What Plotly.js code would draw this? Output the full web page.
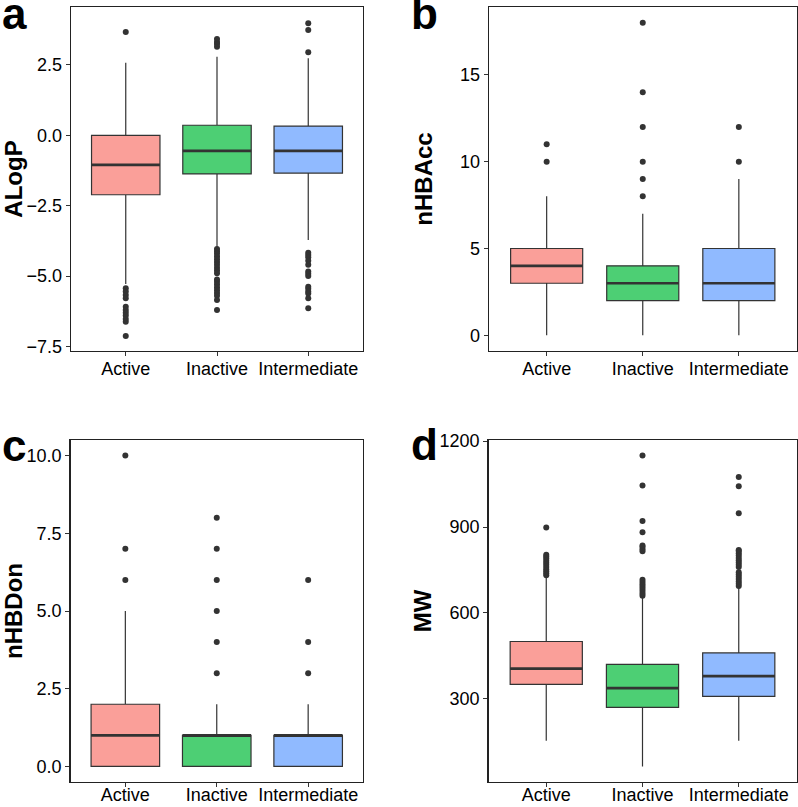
<!DOCTYPE html>
<html>
<head>
<meta charset="utf-8">
<script src="https://cdn.plot.ly/plotly-3.0.1.min.js"></script>
<style>html,body{margin:0;padding:0;background:#fff}#chart{width:798px;height:807px}</style>
</head>
<body>
<div id="chart"></div>
<script>
// ---------------- data ----------------
const categories = ['Active', 'Inactive', 'Intermediate'];

// ALogP
const alogpQ1 = [-2.11, -1.37, -1.34];
const alogpMedian = [-1.05, -0.55, -0.55];
const alogpQ3 = [0.0, 0.36, 0.33];
const alogpLow = [-5.28, -3.96, -3.72];
const alogpHigh = [2.58, 2.79, 2.74];
const alogpOutActive = [3.67, -5.43, -5.55, -5.67, -5.79, -6.09, -6.2, -6.3, -6.4, -6.52, -6.62, -7.13];
const alogpOutInactive = [3.15, 3.25, 3.32, 3.42, -4.04, -4.12, -4.2, -4.3, -4.4, -4.5, -4.6, -4.7, -4.8, -4.9,
  -5.12, -5.2, -5.3, -5.4, -5.5, -5.6, -5.7, -5.85, -6.2];
const alogpOutIntermediate = [2.95, 3.74, 3.98, -4.17, -4.25, -4.33, -4.45, -4.6, -4.84, -4.92, -5.0,
  -5.38, -5.45, -5.55, -5.62, -5.79, -6.14];
const alogpTicks = [-7.5, -5.0, -2.5, 0.0, 2.5];

// nHBAcc
const hbaQ1 = [3, 2, 2];
const hbaMedian = [4, 3, 3];
const hbaQ3 = [5, 4, 5];
const hbaLow = [0, 0, 0];
const hbaHigh = [8, 7, 9];
const hbaOutActive = [10, 11];
const hbaOutInactive = [8, 9, 10, 12, 14, 18];
const hbaOutIntermediate = [10, 12];
const hbaTicks = [0, 5, 10, 15];

// nHBDon
const hbdQ1 = [0, 0, 0];
const hbdMedian = [1, 1, 1];
const hbdQ3 = [2, 1, 1];
const hbdLow = [0, 0, 0];
const hbdHigh = [5, 2, 2];
const hbdOutActive = [6, 7, 10];
const hbdOutInactive = [3, 4, 5, 6, 7, 8];
const hbdOutIntermediate = [3, 4, 6];
const hbdTicks = [0.0, 2.5, 5.0, 7.5, 10.0];

// MW
const mwQ1 = [350, 270, 308];
const mwMedian = [405, 337, 379];
const mwQ3 = [500, 420, 460];
const mwLow = [153, 63, 153];
const mwHigh = [728, 652, 690];
const mwOutActive = [731, 738, 745, 752, 760, 768, 775, 782, 790, 797, 803, 898];
const mwOutInactive = [660, 668, 676, 684, 692, 700, 708, 716, 815, 822, 830, 835, 882, 921, 1045, 1150];
const mwOutIntermediate = [694, 702, 710, 718, 726, 734, 742, 760, 768, 776, 784, 792, 800, 808, 816, 820, 948, 1042, 1075];
const mwTicks = [300, 600, 900, 1200];

// ---------------- styling ----------------
const fills = ['#FA9F99', '#4DCF74', '#90BAFF'];
const dark = '#333333';
const FONT = 'Liberation Sans, Arial, Helvetica, sans-serif';
const W = 798, H = 807;
const px = p => p / W;
const py = p => 1 - p / H;

const panels = [
  {ax: '', name: 'ALogP', q1: alogpQ1, med: alogpMedian, q3: alogpQ3, lo: alogpLow, hi: alogpHigh,
   out: [alogpOutActive, alogpOutInactive, alogpOutIntermediate], ticks: alogpTicks, fmt: '.1f',
   range: [-7.66, 4.56], xd: [71, 363], yd: [7, 351], stand: 2, letter: 'a', xstand: -3},
  {ax: '2', name: 'nHBAcc', q1: hbaQ1, med: hbaMedian, q3: hbaQ3, lo: hbaLow, hi: hbaHigh,
   out: [hbaOutActive, hbaOutInactive, hbaOutIntermediate], ticks: hbaTicks, fmt: 'd',
   range: [-0.9, 18.9], xd: [489, 796.5], yd: [7, 351], stand: 20, letter: 'b', xstand: -3},
  {ax: '3', name: 'nHBDon', q1: hbdQ1, med: hbdMedian, q3: hbdQ3, lo: hbdLow, hi: hbdHigh,
   out: [hbdOutActive, hbdOutInactive, hbdOutIntermediate], ticks: hbdTicks, fmt: '.1f',
   range: [-0.5, 10.5], xd: [70.5, 363], yd: [440, 782], stand: 2, letter: 'c', xstand: -8},
  {ax: '4', name: 'MW', q1: mwQ1, med: mwMedian, q3: mwQ3, lo: mwLow, hi: mwHigh,
   out: [mwOutActive, mwOutInactive, mwOutIntermediate], ticks: mwTicks, fmt: 'd',
   range: [9, 1204], xd: [488.5, 796.5], yd: [440, 782], stand: 1, letter: 'd', xstand: -8}
];

const letterPos = {a: [0, 40], b: [409, 40], c: [0, 472], d: [409, 471]};

const traces = [];
const shapes = [];
const annotations = [];
const layout = {
  width: W, height: H,
  margin: {l: 0, r: 0, t: 0, b: 0},
  paper_bgcolor: '#fff', plot_bgcolor: '#fff',
  showlegend: false,
  boxmode: 'overlay',
  font: {family: FONT, size: 18, color: '#000'}
};

panels.forEach(p => {
  const xa = 'x' + p.ax, ya = 'y' + p.ax;
  categories.forEach((c, i) => {
    traces.push({
      type: 'box', x: [c], q1: [p.q1[i]], median: [p.med[i]], q3: [p.q3[i]],
      lowerfence: [p.lo[i]], upperfence: [p.hi[i]],
      fillcolor: fills[i], line: {color: dark, width: 1.2},
      whiskerwidth: 0, width: 0.75, boxpoints: false,
      xaxis: xa, yaxis: ya, hoverinfo: 'skip'
    });
    traces.push({
      type: 'scatter', mode: 'markers', x: p.out[i].map(() => c), y: p.out[i],
      marker: {size: 6, color: dark}, xaxis: xa, yaxis: ya, hoverinfo: 'skip'
    });
    shapes.push({
      type: 'line', xref: xa, yref: ya, x0: i - 0.375, x1: i + 0.375,
      y0: p.med[i], y1: p.med[i], line: {color: dark, width: 2.6}, layer: 'above'
    });
  });
  layout['xaxis' + p.ax] = {
    domain: [px(p.xd[0]), px(p.xd[1])], anchor: ya,
    type: 'category', categoryorder: 'array', categoryarray: categories,
    range: [-0.6, 2.6], showgrid: false, zeroline: false,
    showline: true, mirror: true, linecolor: '#222', linewidth: 1.3,
    ticks: 'outside', ticklen: 4, tickwidth: 1, tickcolor: dark,
    ticklabelstandoff: p.xstand,
    tickfont: {family: FONT, size: 18, color: '#000'}, fixedrange: true
  };
  layout['yaxis' + p.ax] = {
    domain: [py(p.yd[1]), py(p.yd[0])], anchor: xa,
    range: p.range, tickvals: p.ticks, tickformat: p.fmt,
    showgrid: false, zeroline: false,
    showline: true, mirror: true, linecolor: '#222', linewidth: 1.3,
    ticks: 'outside', ticklen: 4, tickwidth: 1, tickcolor: dark,
    tickfont: {family: FONT, size: 18, color: '#000'},
    title: {text: p.name, standoff: p.stand, font: {family: FONT, size: 24, color: '#000', weight: 'bold'}},
    fixedrange: true
  };
  const lp = letterPos[p.letter];
  annotations.push({
    text: p.letter, xref: 'paper', yref: 'paper', x: px(lp[0]), y: py(lp[1]),
    xanchor: 'left', yanchor: 'bottom', showarrow: false,
    font: {family: FONT, size: 44, color: '#000', weight: 'bold'}
  });
});

layout.shapes = shapes;
layout.annotations = annotations;

Plotly.newPlot('chart', traces, layout, {displayModeBar: false, staticPlot: true});
</script>
</body>
</html>
